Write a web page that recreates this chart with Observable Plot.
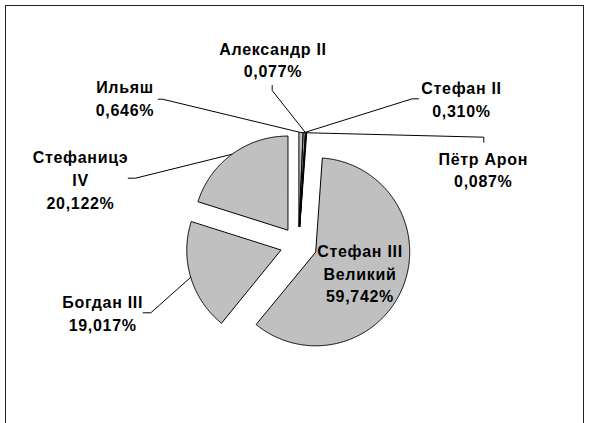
<!DOCTYPE html>
<html><head><meta charset="utf-8">
<script src="https://cdn.jsdelivr.net/npm/d3@7"></script>
<script src="https://cdn.jsdelivr.net/npm/@observablehq/plot@0.6"></script>
<style>body{margin:0;background:#fff} svg text{letter-spacing:0.7px}</style>
</head><body><div id="chart"></div>
<script>
// ---- data ----
const rulers = ["Ильяш", "Стефан II", "Александр II", "Пётр Арон", "Стефан III Великий", "Богдан III", "Стефаницэ IV"];
const labelNames = ["Ильяш", "Стефан II", "Александр II", "Пётр Арон", "Стефан III\nВеликий", "Богдан III", "Стефаницэ\nIV"];
const shares = [0.646, 0.310, 0.077, 0.087, 59.742, 19.017, 20.122];

// ---- layout ----
const W = 589, H = 423, CX = 298, CY = 244.5, R = 94, EXPLODE = 18.5;
const labelPos = [[124.5, 96.8], [461, 97.5], [272.5, 58.3], [482.8, 168.3], [359.5, 272], [102.2, 311.7], [80, 178.3]];
const leaderStart = [
  [[157.8, 98.7], [162, 98.7]],
  [[418, 98.3], [411.7, 98.3]],
  [[271.7, 85], [271.7, 90]],
  [[483.3, 141.7], [483.3, 136.7]],
  null,
  [[142.7, 312.3], [150.3, 312.3]],
  [[127.7, 177.7], [135, 177.7]]
];

const fmt = v => v.toFixed(3).replace(".", ",") + "%";
const arcs = d3.pie().sort(null).value(d => d)(shares);
const slicePts = [], leaderPts = [], labels = [];
arcs.forEach((a, i) => {
  const mid = (a.startAngle + a.endAngle) / 2;
  const ox = CX + EXPLODE * Math.sin(mid), oy = CY - EXPLODE * Math.cos(mid);
  slicePts.push({k: i, x: ox, y: oy});
  const n = Math.max(2, Math.ceil((a.endAngle - a.startAngle) / (Math.PI / 360)));
  for (let j = 0; j <= n; j++) {
    const t = a.startAngle + (a.endAngle - a.startAngle) * j / n;
    slicePts.push({k: i, x: ox + R * Math.sin(t), y: oy - R * Math.cos(t)});
  }
  if (leaderStart[i]) {
    leaderStart[i].forEach(p => leaderPts.push({k: i, x: p[0], y: p[1]}));
    leaderPts.push({k: i, x: ox + R * Math.sin(mid), y: oy - R * Math.cos(mid)});
  }
  labels.push({x: labelPos[i][0], y: labelPos[i][1], text: labelNames[i] + "\n" + fmt(shares[i]), name: rulers[i]});
});

const chart = Plot.plot({
  width: W, height: H, margin: 0,
  x: {domain: [0, W], range: [0, W], axis: null},
  y: {domain: [0, H], range: [0, H], axis: null},
  marks: [
    Plot.rect([{x1: 5.5, x2: 583.5, y1: 5.5, y2: 440}], {x1: "x1", x2: "x2", y1: "y1", y2: "y2", fill: "none", stroke: "#222", strokeWidth: 1}),
    Plot.line(leaderPts, {x: "x", y: "y", z: "k", stroke: "#000", strokeWidth: 1}),
    Plot.line(slicePts, {x: "x", y: "y", z: "k", fill: "#c0c0c0", stroke: "#000", strokeWidth: 1, curve: "linear-closed"}),
    Plot.text(labels, {x: "x", y: "y", text: "text", fontSize: 16, fontWeight: "bold",
      fontFamily: "'Liberation Sans', Arial, sans-serif", lineHeight: 1.42,
      textAnchor: "middle", lineAnchor: "middle", fill: "#000"})
  ]
});
document.getElementById("chart").appendChild(chart);
</script>
</body></html>
